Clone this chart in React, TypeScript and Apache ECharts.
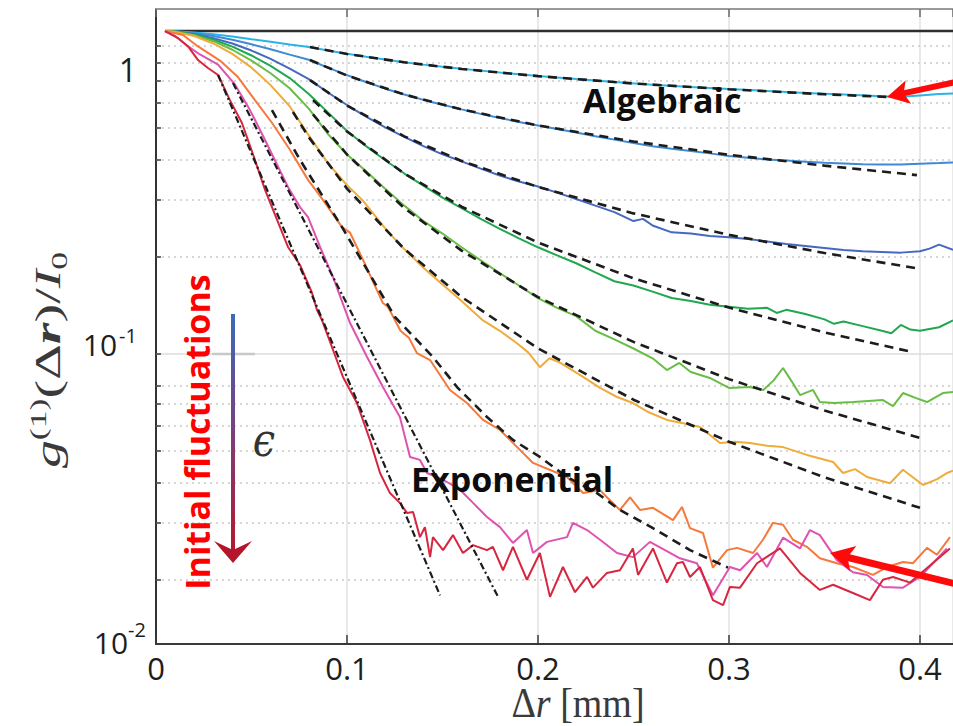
import React, { useEffect, useRef } from "react";
import * as echarts from "echarts";

// ---------- axis / tick data ----------
const xTickValues = [0, 0.1, 0.2, 0.3, 0.4];
const xTickLabels = ["0", "0.1", "0.2", "0.3", "0.4"];
const yTickBases = ["1", "10", "10"];
const yTickExps = ["", "-1", "-2"];
const yMinorGrid = [0.02, 0.03, 0.04, 0.05, 0.06, 0.07, 0.08, 0.2, 0.3, 0.4, 0.5, 0.6, 0.7, 0.8, 0.9];
const yMajorGrid = [0.1];

// ---------- measured curves (Δr [mm], g/I0) ----------
const flatLine: [number, number][] = [[0.0047, 1], [0.4173, 1]];

const curveCyan: [number, number][] = [
  [0.0047, 1.0], [0.01, 0.998], [0.02, 0.99], [0.03, 0.978], [0.04, 0.962], [0.05, 0.943], [0.06, 0.926],
  [0.07, 0.909], [0.08, 0.893], [0.09, 0.871], [0.1, 0.851], [0.11, 0.833], [0.12, 0.816], [0.13, 0.801],
  [0.14, 0.787], [0.15, 0.775], [0.16, 0.764], [0.17, 0.754], [0.18, 0.744], [0.19, 0.735], [0.2, 0.726],
  [0.22, 0.71], [0.24, 0.695], [0.26, 0.682], [0.28, 0.671], [0.3, 0.661], [0.32, 0.652], [0.34, 0.643],
  [0.36, 0.636], [0.38, 0.628], [0.39, 0.626], [0.4, 0.632], [0.41, 0.638], [0.4173, 0.64],
];

const curveBlue: [number, number][] = [
  [0.0047, 1.0], [0.01, 0.997], [0.02, 0.985], [0.03, 0.965], [0.04, 0.94], [0.05, 0.91], [0.06, 0.878],
  [0.07, 0.845], [0.08, 0.815], [0.09, 0.77], [0.1, 0.73], [0.11, 0.695], [0.12, 0.663], [0.13, 0.636],
  [0.14, 0.612], [0.15, 0.591], [0.16, 0.572], [0.17, 0.554], [0.18, 0.538], [0.19, 0.523], [0.2, 0.51],
  [0.21, 0.497], [0.22, 0.485], [0.23, 0.472], [0.24, 0.461], [0.25, 0.45], [0.26, 0.44], [0.27, 0.432],
  [0.28, 0.425], [0.29, 0.418], [0.3, 0.41], [0.31, 0.405], [0.32, 0.4], [0.33, 0.397], [0.34, 0.394],
  [0.35, 0.391], [0.36, 0.389], [0.37, 0.387], [0.38, 0.386], [0.39, 0.386], [0.4, 0.388], [0.41, 0.39],
  [0.4173, 0.392],
];

const curveDarkBlue: [number, number][] = [
  [0.0047, 1.0], [0.01, 0.995], [0.02, 0.978], [0.03, 0.95], [0.04, 0.915], [0.05, 0.87], [0.06, 0.82],
  [0.07, 0.765], [0.08, 0.71], [0.09, 0.645], [0.1, 0.59], [0.11, 0.543], [0.12, 0.503], [0.13, 0.47],
  [0.14, 0.44], [0.15, 0.415], [0.16, 0.395], [0.17, 0.375], [0.18, 0.357], [0.19, 0.342], [0.2, 0.33],
  [0.21, 0.316], [0.22, 0.302], [0.23, 0.288], [0.24, 0.275], [0.25, 0.258], [0.255, 0.262], [0.26, 0.25],
  [0.27, 0.238], [0.28, 0.236], [0.29, 0.232], [0.3, 0.23], [0.31, 0.227], [0.32, 0.223], [0.33, 0.219],
  [0.34, 0.216], [0.35, 0.213], [0.36, 0.21], [0.37, 0.208], [0.38, 0.207], [0.39, 0.206], [0.4, 0.208],
  [0.405, 0.212], [0.41, 0.218], [0.4173, 0.21],
];

const curveGreen: [number, number][] = [
  [0.0047, 1.0], [0.01, 0.996], [0.02, 0.975], [0.03, 0.94], [0.04, 0.895], [0.05, 0.84], [0.06, 0.78],
  [0.07, 0.715], [0.08, 0.638], [0.09, 0.56], [0.1, 0.49], [0.11, 0.44], [0.12, 0.398], [0.13, 0.362],
  [0.14, 0.332], [0.15, 0.305], [0.16, 0.283], [0.17, 0.262], [0.18, 0.244], [0.19, 0.228], [0.2, 0.214],
  [0.21, 0.202], [0.22, 0.191], [0.23, 0.179], [0.24, 0.168], [0.25, 0.163], [0.26, 0.156], [0.27, 0.149],
  [0.28, 0.146], [0.29, 0.142], [0.3, 0.14], [0.31, 0.138], [0.32, 0.139], [0.325, 0.134], [0.33, 0.137],
  [0.34, 0.133], [0.35, 0.128], [0.355, 0.124], [0.36, 0.126], [0.37, 0.122], [0.38, 0.118], [0.385, 0.116],
  [0.39, 0.123], [0.395, 0.119], [0.4, 0.118], [0.41, 0.121], [0.4173, 0.127],
];

const curveLightGreen: [number, number][] = [
  [0.0047, 1.0], [0.01, 0.995], [0.02, 0.97], [0.03, 0.93], [0.04, 0.875], [0.05, 0.81], [0.06, 0.74],
  [0.07, 0.665], [0.08, 0.575], [0.09, 0.48], [0.1, 0.415], [0.11, 0.368], [0.12, 0.325], [0.13, 0.288],
  [0.14, 0.258], [0.15, 0.236], [0.16, 0.214], [0.17, 0.195], [0.18, 0.178], [0.19, 0.163], [0.2, 0.149],
  [0.21, 0.139], [0.22, 0.131], [0.23, 0.118], [0.24, 0.111], [0.25, 0.104], [0.26, 0.097], [0.2675, 0.0892],
  [0.274, 0.0938], [0.28, 0.088], [0.29, 0.0843], [0.3, 0.0785], [0.311, 0.079], [0.318, 0.0774],
  [0.3235, 0.083], [0.3283, 0.0905], [0.333, 0.082], [0.3372, 0.0746], [0.344, 0.0774], [0.3476, 0.071],
  [0.355, 0.0705], [0.365, 0.071], [0.373, 0.0715], [0.3806, 0.072], [0.3859, 0.069], [0.3911, 0.0757],
  [0.398, 0.073], [0.4037, 0.071], [0.412, 0.0757], [0.4173, 0.0763],
];

const curveYellow: [number, number][] = [
  [0.0047, 1.0], [0.01, 0.994], [0.02, 0.965], [0.03, 0.915], [0.04, 0.85], [0.05, 0.77], [0.06, 0.68],
  [0.07, 0.585], [0.08, 0.475], [0.09, 0.39], [0.1, 0.333], [0.108, 0.3], [0.12, 0.245], [0.1277, 0.218],
  [0.14, 0.185], [0.15, 0.164], [0.16, 0.146], [0.1712, 0.127], [0.18, 0.118], [0.189, 0.108], [0.195, 0.101],
  [0.201, 0.091], [0.206, 0.097], [0.2115, 0.094], [0.2236, 0.085], [0.2325, 0.0785], [0.2414, 0.0736],
  [0.2497, 0.0705], [0.258, 0.066], [0.2675, 0.0625], [0.276, 0.061], [0.2848, 0.0594], [0.2953, 0.053],
  [0.303, 0.0535], [0.311, 0.053], [0.32, 0.052], [0.3283, 0.0515], [0.3408, 0.0487], [0.3545, 0.0463],
  [0.3597, 0.0428], [0.366, 0.044], [0.3723, 0.0416], [0.3843, 0.0398], [0.3911, 0.0438], [0.4016, 0.0393],
  [0.409, 0.041], [0.4141, 0.0428], [0.4173, 0.0435],
];

const curveOrange: [number, number][] = [
  [0.0047, 1.0], [0.0141, 0.972], [0.022, 0.896], [0.0335, 0.81], [0.0429, 0.72], [0.0518, 0.611],
  [0.0607, 0.52], [0.0702, 0.428], [0.0796, 0.346], [0.0874, 0.3], [0.0974, 0.247], [0.1016, 0.2375],
  [0.1094, 0.19], [0.1188, 0.1438], [0.1215, 0.1398], [0.128, 0.118], [0.1325, 0.112], [0.1366, 0.1007],
  [0.1435, 0.0958], [0.1539, 0.0774], [0.1628, 0.0705], [0.1712, 0.0625], [0.1801, 0.0582], [0.1853, 0.0542],
  [0.1974, 0.046], [0.2152, 0.0416], [0.2236, 0.0371], [0.2325, 0.0379], [0.2361, 0.036], [0.2429, 0.0329],
  [0.2482, 0.036], [0.2534, 0.0329], [0.2602, 0.0334], [0.2707, 0.0306], [0.2754, 0.0336], [0.2796, 0.0289],
  [0.2864, 0.0279], [0.2916, 0.0218], [0.299, 0.0247], [0.3042, 0.0251], [0.3126, 0.0242], [0.3178, 0.0266],
  [0.323, 0.03], [0.3283, 0.0296], [0.3335, 0.0266], [0.3408, 0.0253], [0.3476, 0.0233], [0.3565, 0.0225],
  [0.3649, 0.0219], [0.3754, 0.0207], [0.3827, 0.0219], [0.3911, 0.0227], [0.3963, 0.0225], [0.4037, 0.0251],
  [0.4089, 0.0239], [0.4157, 0.0271],
];

const curvePink: [number, number][] = [
  [0.0047, 1.0], [0.01, 0.965], [0.0168, 0.896], [0.023, 0.846], [0.0325, 0.787], [0.0414, 0.682],
  [0.0492, 0.569], [0.0571, 0.46], [0.0691, 0.329], [0.0754, 0.285], [0.0796, 0.2655], [0.0859, 0.2145],
  [0.0927, 0.173], [0.1016, 0.1247], [0.1105, 0.0979], [0.1188, 0.079], [0.1277, 0.0638], [0.133, 0.048],
  [0.1382, 0.047], [0.1419, 0.0428], [0.1503, 0.0408], [0.1592, 0.038], [0.166, 0.0346], [0.1733, 0.0313],
  [0.1801, 0.0291], [0.1869, 0.026], [0.1942, 0.0285], [0.1974, 0.0242], [0.2047, 0.0262], [0.2152, 0.0271],
  [0.2183, 0.03], [0.2257, 0.0285], [0.2325, 0.0266], [0.2414, 0.0242], [0.2497, 0.0235], [0.2586, 0.0262],
  [0.2665, 0.0247], [0.2743, 0.0233], [0.2832, 0.0225], [0.2916, 0.0179], [0.3005, 0.0219], [0.3058, 0.0214],
  [0.3147, 0.0242], [0.3199, 0.0219], [0.3283, 0.027], [0.3372, 0.025], [0.3424, 0.0285], [0.3476, 0.0275],
  [0.3565, 0.023], [0.3649, 0.0211], [0.3723, 0.0207], [0.3806, 0.019], [0.3911, 0.0189], [0.4, 0.0204],
  [0.4141, 0.025],
];

const curveRed: [number, number][] = [
  [0.0047, 1.0], [0.0115, 0.951], [0.0168, 0.896], [0.022, 0.813], [0.0272, 0.768], [0.0325, 0.731],
  [0.0387, 0.611], [0.045, 0.519], [0.0513, 0.407], [0.0571, 0.322], [0.0634, 0.26], [0.0691, 0.2145],
  [0.0754, 0.1886], [0.0817, 0.1545], [0.0843, 0.1369], [0.0869, 0.1274], [0.0927, 0.1029], [0.0979, 0.0849],
  [0.1052, 0.0705], [0.112, 0.0542], [0.1173, 0.0428], [0.1225, 0.0371], [0.1277, 0.0346], [0.1314, 0.0322],
  [0.1346, 0.0324], [0.1382, 0.0271], [0.1408, 0.0291], [0.1435, 0.0235], [0.145, 0.0271], [0.1503, 0.0247],
  [0.1555, 0.0275], [0.1607, 0.0242], [0.166, 0.0256], [0.1733, 0.0247], [0.1764, 0.0253], [0.1817, 0.0214],
  [0.1869, 0.0253], [0.1942, 0.02], [0.201, 0.0242], [0.2063, 0.0177], [0.2131, 0.0219], [0.2194, 0.0183],
  [0.2257, 0.0204], [0.2288, 0.0189], [0.2361, 0.021], [0.2429, 0.0214], [0.2497, 0.025], [0.2524, 0.0207],
  [0.2602, 0.025], [0.2675, 0.0196], [0.2728, 0.0225], [0.2759, 0.0227], [0.2796, 0.0204], [0.2848, 0.0219],
  [0.2916, 0.0173], [0.2969, 0.0167], [0.3005, 0.019], [0.3058, 0.0189], [0.3147, 0.0225], [0.3267, 0.025],
  [0.3372, 0.021], [0.3476, 0.0186], [0.3545, 0.0193], [0.3649, 0.0182], [0.3738, 0.0173], [0.3806, 0.02],
  [0.3859, 0.0204], [0.3948, 0.0196], [0.4157, 0.025],
];

// ---------- fits ----------
const fitCyan: [number, number][] = [
  [0.0806, 0.892], [0.1, 0.849], [0.13, 0.8], [0.16, 0.763], [0.2, 0.725], [0.25, 0.688], [0.3, 0.66],
  [0.35, 0.637], [0.3827, 0.625],
];
const fitBlue: [number, number][] = [
  [0.0806, 0.813], [0.1, 0.728], [0.13, 0.636], [0.16, 0.572], [0.2, 0.51], [0.25, 0.455], [0.3, 0.414],
  [0.35, 0.383], [0.3984, 0.358],
];
const fitDarkBlue: [number, number][] = [
  [0.0806, 0.705], [0.1, 0.588], [0.13, 0.472], [0.16, 0.396], [0.2, 0.329], [0.25, 0.2725], [0.3, 0.2338],
  [0.35, 0.2054], [0.3984, 0.1842],
];
const fitGreen: [number, number][] = [
  [0.0822, 0.611], [0.1, 0.4887], [0.13, 0.362], [0.16, 0.2858], [0.2, 0.2214], [0.25, 0.1715], [0.3, 0.1392],
  [0.35, 0.1167], [0.3963, 0.1013],
];
const fitLightGreen: [number, number][] = [
  [0.0822, 0.552], [0.1, 0.4147], [0.13, 0.283], [0.16, 0.209], [0.2, 0.15], [0.25, 0.109], [0.3, 0.0836],
  [0.35, 0.0668], [0.4, 0.055],
];
const fitYellow: [number, number][] = [
  [0.0717, 0.5615], [0.08, 0.469], [0.1, 0.325], [0.13, 0.2114], [0.16, 0.1502], [0.2, 0.1041], [0.25, 0.0722],
  [0.3, 0.0535], [0.35, 0.0415], [0.4, 0.0334],
];
const fitOrange: [number, number][] = [
  [0.0607, 0.569], [0.0754, 0.399], [0.0974, 0.247], [0.1251, 0.1302], [0.145, 0.0979], [0.1576, 0.079],
  [0.1733, 0.0638], [0.1869, 0.0542], [0.201, 0.048], [0.2152, 0.0416], [0.2309, 0.0371], [0.2429, 0.0329],
  [0.2602, 0.0289], [0.2796, 0.0247], [0.2995, 0.0218],
];
const fitPinkExp: [number, number][] = [[0.0403, 0.69], [0.1791, 0.0177]];
const fitRedExp: [number, number][] = [[0.0325, 0.731], [0.1487, 0.0179]];

const curves = [
  { name: "c1", data: curveCyan, color: "#2bb3e6" },
  { name: "c2", data: curveBlue, color: "#3d8ad6" },
  { name: "c3", data: curveDarkBlue, color: "#4668c0" },
  { name: "c4", data: curveGreen, color: "#20a84f" },
  { name: "c5", data: curveLightGreen, color: "#69bd45" },
  { name: "c6", data: curveYellow, color: "#efac3b" },
  { name: "c7", data: curveOrange, color: "#f5793b" },
  { name: "c8", data: curvePink, color: "#e052b0" },
  { name: "c9", data: curveRed, color: "#d7263f" },
];
const algebraicFits = [fitCyan, fitBlue, fitDarkBlue, fitGreen, fitLightGreen, fitYellow, fitOrange];
const exponentialFits = [fitPinkExp, fitRedExp];

const X_MAX = 0.4173;

function buildOption(): any {
  const serif = "'Liberation Serif', 'DejaVu Serif', serif";
  const sans = "'Open Sans', 'Noto Sans', sans-serif";
  const titleColor = "#3a3a3a";

  const gridSeries = {
    type: "line",
    data: [],
    z: 1,
    silent: true,
    symbol: "none",
    markLine: {
      silent: true,
      z: 1,
      symbol: ["none", "none"],
      animation: false,
      label: { show: false },
      emphasis: { disabled: true },
      data: [
        ...yMinorGrid.map((v) => ({
          yAxis: v,
          lineStyle: { type: [2, 4], color: "#c9c9c9", width: 1.5 },
        })),
        ...yMajorGrid.map((v) => ({
          yAxis: v,
          lineStyle: { type: "solid", color: "#dddddd", width: 1.6 },
        })),
        ...yMinorGrid.concat(yMajorGrid).map((v) => [
          { coord: [0, v], lineStyle: { type: "solid", color: "#3a3a3a", width: 1.5 } },
          { coord: [0.0026, v] },
        ]),
      ],
    },
  };

  const series: any[] = [gridSeries];
  series.push({
    type: "line",
    data: flatLine,
    symbol: "none",
    silent: true,
    z: 2,
    lineStyle: { color: "#2e2e2e", width: 2.6 },
  });
  curves.forEach((c) =>
    series.push({
      type: "line",
      name: c.name,
      data: c.data,
      symbol: "none",
      silent: true,
      z: 3,
      lineStyle: { color: c.color, width: 2 },
    })
  );
  algebraicFits.forEach((f) =>
    series.push({
      type: "line",
      data: f,
      symbol: "none",
      silent: true,
      z: 4,
      lineStyle: { color: "#1c1c1c", width: 2.6, type: [9, 6] },
    })
  );
  exponentialFits.forEach((f) =>
    series.push({
      type: "line",
      data: f,
      symbol: "none",
      silent: true,
      z: 4,
      lineStyle: { color: "#1c1c1c", width: 2.2, type: [7, 3, 2, 3] },
    })
  );

  const redArrow = (pts: number[][], shaft: number[], w: number) => [
    {
      type: "line",
      shape: { x1: shaft[0], y1: shaft[1], x2: shaft[2], y2: shaft[3] },
      style: { stroke: "#ff0a0a", lineWidth: w },
      z: 20,
    },
    { type: "polygon", shape: { points: pts }, style: { fill: "#ff0a0a" }, z: 20 },
  ];

  const graphic: any[] = [
    // y tick labels
    {
      type: "text", x: 128, y: 69, z: 10,
      style: { text: yTickBases[0], fontSize: 32, fontFamily: sans, fill: "#1e1e1e", align: "center", verticalAlign: "middle" },
    },
    {
      type: "text", x: 100, y: 344, z: 10,
      style: { text: yTickBases[1], fontSize: 30, fontFamily: sans, fill: "#1e1e1e", align: "center", verticalAlign: "middle" },
    },
    {
      type: "text", x: 119, y: 335, z: 10,
      style: { text: yTickExps[1], fontSize: 20, fontFamily: sans, fill: "#1e1e1e", align: "left", verticalAlign: "middle" },
    },
    {
      type: "text", x: 111, y: 642, z: 10,
      style: { text: yTickBases[2], fontSize: 30, fontFamily: sans, fill: "#1e1e1e", align: "center", verticalAlign: "middle" },
    },
    {
      type: "text", x: 128, y: 629, z: 10,
      style: { text: yTickExps[2], fontSize: 20, fontFamily: sans, fill: "#1e1e1e", align: "left", verticalAlign: "middle" },
    },
    // y axis title
    {
      type: "text", x: 48, y: 360, rotation: Math.PI / 2, scaleX: 1.55, z: 10,
      style: {
        text: "{g|g}{sp|(1)}{n|(Δ}{b|r}{n|)/}{i|I}{sb|0}",
        align: "center",
        verticalAlign: "middle",
        fill: titleColor,
        rich: {
          g: { fontFamily: serif, fontStyle: "italic", fontSize: 36, lineHeight: 44, verticalAlign: "middle", fill: titleColor },
          sp: { fontFamily: serif, fontSize: 23, lineHeight: 24, verticalAlign: "top", fill: titleColor },
          n: { fontFamily: serif, fontSize: 36, lineHeight: 44, verticalAlign: "middle", fill: titleColor },
          b: { fontFamily: serif, fontStyle: "italic", fontWeight: "bold", fontSize: 36, lineHeight: 44, verticalAlign: "middle", fill: titleColor },
          i: { fontFamily: serif, fontStyle: "italic", fontSize: 36, lineHeight: 44, verticalAlign: "middle", fill: titleColor },
          sb: { fontFamily: serif, fontSize: 23, lineHeight: 24, verticalAlign: "bottom", fill: titleColor },
        },
      },
    },
    // x axis title
    {
      type: "text", x: 578, y: 703, scaleY: 1.12, z: 10,
      style: {
        text: "{n|Δ}{i|r}{n| [mm]}",
        align: "center",
        verticalAlign: "middle",
        rich: {
          n: { fontFamily: serif, fontSize: 38, fill: titleColor },
          i: { fontFamily: serif, fontStyle: "italic", fontSize: 38, fill: titleColor },
        },
      },
    },
    // annotations
    {
      type: "text", x: 583, y: 100, z: 15,
      style: { text: "Algebraic", fontSize: 34, fontWeight: "bold", fontFamily: sans, fill: "#0d0d0d", align: "left", verticalAlign: "middle" },
    },
    {
      type: "text", x: 411, y: 479, z: 15,
      style: { text: "Exponential", fontSize: 34, fontWeight: "bold", fontFamily: sans, fill: "#0d0d0d", align: "left", verticalAlign: "middle" },
    },
    {
      type: "text", x: 197, y: 432, rotation: Math.PI / 2, z: 15,
      style: { text: "Initial fluctuations", fontSize: 34, fontWeight: "bold", fontFamily: sans, fill: "#ff0000", align: "center", verticalAlign: "middle" },
    },
    {
      type: "text", x: 264, y: 440, scaleY: 1.15, z: 15,
      style: { text: "ϵ", fontSize: 40, fontStyle: "italic", fontFamily: "'DejaVu Serif', serif", fill: "#333", align: "center", verticalAlign: "middle" },
    },
    // gray artifact near 10^-1
    { type: "line", shape: { x1: 212, y1: 354, x2: 255, y2: 354 }, style: { stroke: "#c8c8c8", lineWidth: 2.5 }, z: 12 },
    // gradient epsilon arrow
    {
      type: "rect", shape: { x: 231, y: 314, width: 4, height: 236 }, z: 14,
      style: {
        fill: new echarts.graphic.LinearGradient(0, 0, 0, 1, [
          { offset: 0, color: "#3a6cb8" },
          { offset: 0.5, color: "#7a3f7e" },
          { offset: 1, color: "#b5182d" },
        ]),
      },
    },
    {
      type: "polygon", z: 14,
      shape: { points: [[214, 541], [233, 550], [252, 541], [233, 563]] },
      style: { fill: "#b3152b" },
    },
    // red arrows
    ...redArrow([[887, 97], [905.7, 80.4], [903.6, 93.2], [911.1, 103.8]], [956, 82, 902, 93.6], 6),
    ...redArrow([[830, 553], [856.4, 546.1], [847.5, 557.3], [850.2, 571.3]], [956, 584, 846, 557], 7),
  ];

  return {
    animation: false,
    backgroundColor: "#ffffff",
    grid: { left: 156, right: 0, top: 9, bottom: 82, containLabel: false },
    xAxis: [
      {
        type: "value",
        min: 0,
        max: X_MAX,
        interval: 0.1,
        position: "bottom",
        axisLine: { show: true, onZero: false, lineStyle: { color: "#3a3a3a", width: 2 } },
        axisTick: { show: true, inside: true, length: 9, lineStyle: { color: "#3a3a3a", width: 1.5 } },
        axisLabel: {
          show: true,
          margin: 8,
          fontSize: 31,
          color: "#1e1e1e",
          fontFamily: sans,
          showMaxLabel: false,
          formatter: (v: number) => {
            const i = xTickValues.findIndex((t) => Math.abs(t - v) < 1e-6);
            return i >= 0 ? xTickLabels[i] : "";
          },
        },
        splitLine: { show: true, lineStyle: { color: "#e2e2e2", width: 1.5 } },
      },
      {
        type: "value",
        min: 0,
        max: X_MAX,
        interval: 0.1,
        position: "top",
        axisLine: { show: true, onZero: false, lineStyle: { color: "#9a9a9a", width: 2 } },
        axisTick: { show: true, inside: true, length: 8, lineStyle: { color: "#6a6a6a", width: 1.5 } },
        axisLabel: { show: false },
        splitLine: { show: false },
      },
    ],
    yAxis: {
      type: "log",
      logBase: 10,
      min: 0.01265,
      max: 1.17,
      axisLine: { show: true, onZero: false, lineStyle: { color: "#333", width: 2 } },
      axisTick: { show: false },
      axisLabel: { show: false },
      splitLine: { show: false },
      minorTick: { show: false },
      minorSplitLine: { show: false },
    },
    series,
    graphic,
  };
}

export default function App() {
  const ref = useRef<HTMLDivElement>(null);
  useEffect(() => {
    document.body.style.margin = "0";
    const chart = echarts.init(ref.current as HTMLDivElement, null, { renderer: "svg" });
    chart.setOption(buildOption());
    return () => {
      chart.dispose();
    };
  }, []);
  return <div ref={ref} style={{ width: 953, height: 726, position: "absolute", left: 0, top: 0 }} />;
}
